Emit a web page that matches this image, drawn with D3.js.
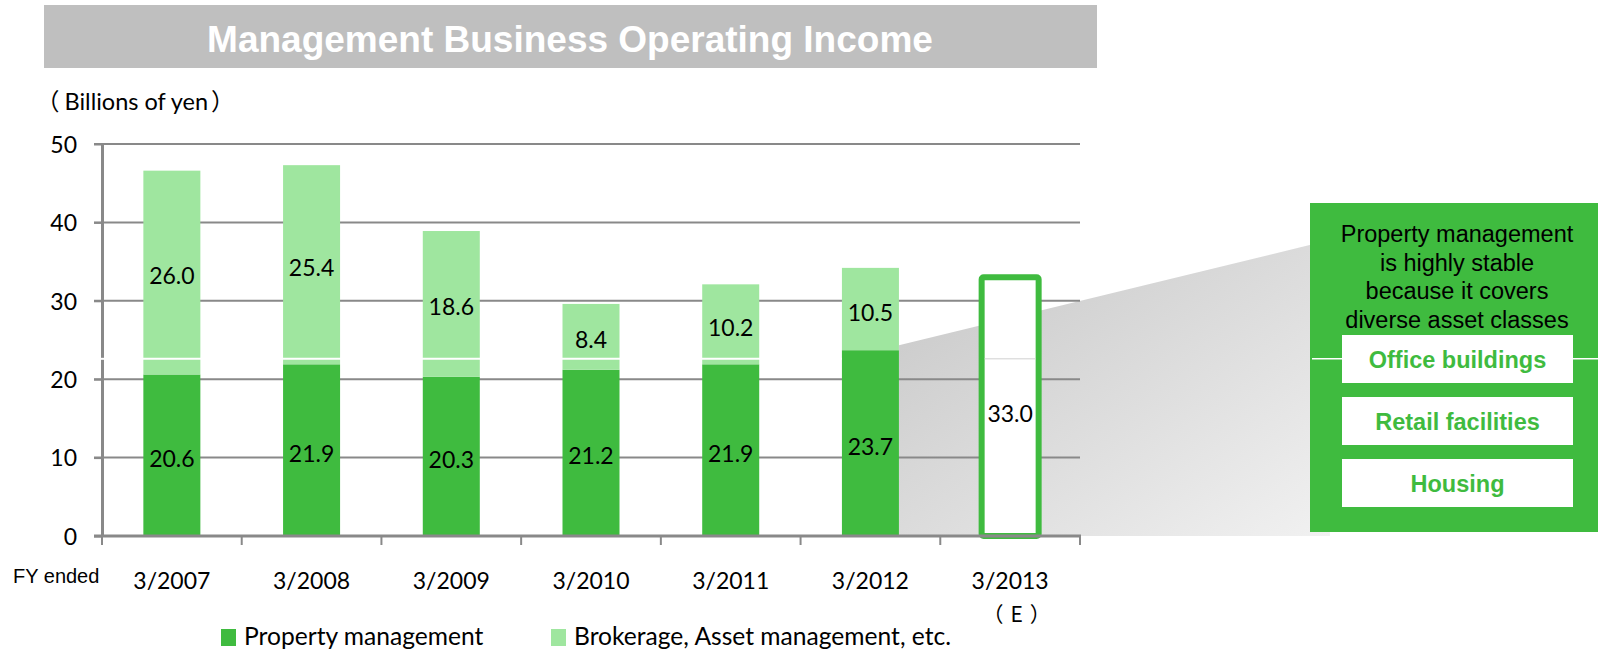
<!DOCTYPE html>
<html>
<head>
<meta charset="utf-8">
<script src="https://cdn.jsdelivr.net/npm/d3@7"></script>
<style>
  body { margin: 0; background: #fff; }
  svg { display: block; }
</style>
</head>
<body>
<svg id="canvas" width="1598" height="651"></svg>
<script>
// chart data
let categories = ['3/2007', '3/2008', '3/2009', '3/2010', '3/2011', '3/2012', '3/2013'];
let categorySubLabels = ['', '', '', '', '', '', '（E）'];
let propertyMgmt = [20.6, 21.9, 20.3, 21.2, 21.9, 23.7, null];
let brokerage = [26.0, 25.4, 18.6, 8.4, 10.2, 10.5, null];
let forecastTotal = [null, null, null, null, null, null, 33.0];
let yTicks = [0, 10, 20, 30, 40, 50];
let seriesNames = ['Property management', 'Brokerage, Asset management,  etc.'];
let calloutLines = ['Property management', 'is highly stable', 'because it covers', 'diverse asset classes'];
let assetClasses = ['Office buildings', 'Retail facilities', 'Housing'];

let dark = '#3fbb3f';
let light = '#9fe69f';
let axisGray = '#898989';
let numFont = 'Lato, "Noto Sans CJK JP", sans-serif';
let cjkFont = '"Noto Sans CJK JP", sans-serif';
let arial = '"Liberation Sans", Arial, sans-serif';

let canvas = d3.select('#canvas');

let x = d3.scaleBand()
    .domain(categories)
    .range([102, 1080])
    .paddingInner(0.592)
    .paddingOuter(0.296);

let y = d3.scaleLinear()
    .domain([0, 50])
    .range([536, 144]);

let table = categories.map((c, i) => ({
    category: c,
    property: propertyMgmt[i],
    brokerage: brokerage[i],
    forecast: forecastTotal[i]
}));
let actual = table.filter(d => d.property !== null);
let stacked = d3.stack().keys(['property', 'brokerage'])(actual);

// title banner
canvas.append('rect')
    .attr('x', 44).attr('y', 5)
    .attr('width', 1053).attr('height', 63)
    .attr('fill', '#bfbfbf');
canvas.append('text')
    .text('Management Business Operating Income')
    .attr('x', 570).attr('y', 52)
    .attr('text-anchor', 'middle')
    .style('font-family', arial)
    .style('font-weight', 'bold')
    .style('font-size', '37px')
    .style('fill', '#ffffff');

canvas.append('text')
    .attr('x', 36).attr('y', 110)
    .style('font-size', '23.5px')
    .style('fill', '#000')
    .call(t => {
        t.append('tspan').text('（').style('font-family', cjkFont);
        t.append('tspan').attr('dx', 5).text('Billions of yen').style('font-family', numFont);
        t.append('tspan').attr('dx', 3).text('）').style('font-family', cjkFont);
    });

// grey wedge leading to the callout
let defs = canvas.append('defs');
let grad = defs.append('linearGradient')
    .attr('id', 'wedgeGrad')
    .attr('x1', 0).attr('y1', 0).attr('x2', 1).attr('y2', 1);
grad.append('stop').attr('offset', '0%').attr('stop-color', '#c6c6c6');
grad.append('stop').attr('offset', '100%').attr('stop-color', '#f1f1f1');

let lastActual = categories[5];
let wedgeLeft = x(lastActual) + x.bandwidth();
let boxX = 1310;
canvas.append('path')
    .attr('d', d3.line()([
        [wedgeLeft, y(propertyMgmt[5]) - 5],
        [boxX + 20, 240],
        [boxX + 20, y(0)],
        [wedgeLeft, y(0)]
    ]) + 'Z')
    .attr('fill', 'url(#wedgeGrad)');

// gridlines
canvas.append('g')
    .selectAll('line')
    .data(yTicks.filter(t => t > 0))
    .enter()
    .append('line')
    .attr('x1', 94).attr('x2', 1080)
    .attr('y1', d => y(d)).attr('y2', d => y(d))
    .attr('stroke', axisGray)
    .attr('stroke-width', 2);

// stacked bars
let colors = { property: dark, brokerage: light };
canvas.append('g')
    .selectAll('g')
    .data(stacked)
    .enter()
    .append('g')
    .attr('fill', s => colors[s.key])
    .selectAll('rect')
    .data(s => s)
    .enter()
    .append('rect')
    .attr('x', d => x(d.data.category))
    .attr('y', d => y(d[1]))
    .attr('width', x.bandwidth())
    .attr('height', d => y(d[0]) - y(d[1]));

// white break line across the light segments
let breakValue = 22.6;
canvas.append('line')
    .attr('x1', 99).attr('x2', x(lastActual))
    .attr('y1', y(breakValue)).attr('y2', y(breakValue))
    .attr('stroke', '#ffffff')
    .attr('stroke-width', 2);

// forecast bar
let fc = table.filter(d => d.forecast !== null);
canvas.append('g')
    .selectAll('rect')
    .data(fc)
    .enter()
    .append('rect')
    .attr('x', d => x(d.category))
    .attr('y', d => y(d.forecast))
    .attr('width', x.bandwidth())
    .attr('height', d => y(0) - y(d.forecast))
    .attr('rx', 2)
    .attr('fill', '#ffffff')
    .attr('stroke', dark)
    .attr('stroke-width', 6);
canvas.append('g')
    .selectAll('line')
    .data(fc)
    .enter()
    .append('line')
    .attr('x1', d => x(d.category) + 3)
    .attr('x2', d => x(d.category) + x.bandwidth() - 3)
    .attr('y1', y(breakValue)).attr('y2', y(breakValue))
    .attr('stroke', '#d0d0d0')
    .attr('stroke-width', 1);

// y axis
let yAxis = d3.axisLeft(y)
    .tickValues(yTicks)
    .tickSize(8)
    .tickPadding(17)
    .tickSizeOuter(0);
let yG = canvas.append('g')
    .attr('transform', 'translate(102,0)')
    .call(yAxis);
yG.select('.domain').attr('stroke', axisGray).attr('stroke-width', 3);
yG.selectAll('.tick line').attr('stroke', axisGray).attr('stroke-width', 2);
yG.selectAll('.tick text')
    .attr('dy', '0.36em')
    .style('font-family', numFont)
    .style('font-size', '23px')
    .style('fill', '#000');

// re-draw break line over y axis
canvas.append('line')
    .attr('x1', 99).attr('x2', 105)
    .attr('y1', y(breakValue)).attr('y2', y(breakValue))
    .attr('stroke', '#ffffff')
    .attr('stroke-width', 2);

// x axis
let bounds = d3.range(categories.length + 1).map(i => x.range()[0] + i * x.step());
let xG = canvas.append('g');
xG.append('line')
    .attr('x1', 94).attr('x2', bounds[bounds.length - 1] + 1)
    .attr('y1', y(0)).attr('y2', y(0))
    .attr('stroke', axisGray)
    .attr('stroke-width', 3);
xG.selectAll('.xtick')
    .data(bounds)
    .enter()
    .append('line')
    .attr('class', 'xtick')
    .attr('x1', d => d).attr('x2', d => d)
    .attr('y1', y(0)).attr('y2', y(0) + 9)
    .attr('stroke', axisGray)
    .attr('stroke-width', 2);
xG.selectAll('.xlabel')
    .data(categories)
    .enter()
    .append('text')
    .attr('class', 'xlabel')
    .text(d => d)
    .attr('x', d => x(d) + x.bandwidth() / 2)
    .attr('y', 589)
    .attr('text-anchor', 'middle')
    .style('font-family', numFont)
    .style('font-size', '23px');
xG.selectAll('.xsub')
    .data(categories)
    .enter()
    .append('text')
    .attr('class', 'xsub')
    .text((d, i) => categorySubLabels[i])
    .attr('x', d => x(d) + x.bandwidth() / 2 + 10)
    .attr('y', 622)
    .attr('text-anchor', 'middle')
    .style('font-family', cjkFont)
    .style('font-size', '21px')
    .style('letter-spacing', '7px');

canvas.append('text')
    .text('FY ended')
    .attr('x', 13).attr('y', 583)
    .style('font-family', arial)
    .style('font-size', '20px');

// value labels
let labels = canvas.append('g')
    .style('font-family', numFont)
    .style('font-size', '23px')
    .attr('text-anchor', 'middle');
stacked.forEach(s => {
    labels.selectAll('.lbl-' + s.key)
        .data(s)
        .enter()
        .append('text')
        .text(d => (d[1] - d[0]).toFixed(1))
        .attr('x', d => x(d.data.category) + x.bandwidth() / 2)
        .attr('y', d => y((d[0] + d[1]) / 2))
        .attr('dy', '0.5em');
});
labels.selectAll('.lbl-fc')
    .data(fc)
    .enter()
    .append('text')
    .text(d => d.forecast.toFixed(1))
    .attr('x', d => x(d.category) + x.bandwidth() / 2)
    .attr('y', d => y(d.forecast / 2) + 4)
    .attr('dy', '0.5em');

// callout box
let box = canvas.append('g');
box.append('rect')
    .attr('x', boxX).attr('y', 203)
    .attr('width', 1598 - boxX).attr('height', 329)
    .attr('fill', dark);
box.selectAll('.cl')
    .data(calloutLines)
    .enter()
    .append('text')
    .text(d => d)
    .attr('x', 1457)
    .attr('y', (d, i) => 242 + i * 28.7)
    .attr('text-anchor', 'middle')
    .style('font-family', arial)
    .style('font-size', '23.5px')
    .style('fill', '#000');
box.append('line')
    .attr('x1', 1312).attr('x2', 1598)
    .attr('y1', y(breakValue)).attr('y2', y(breakValue))
    .attr('stroke', '#ffffff')
    .attr('stroke-width', 1.5);
let items = box.selectAll('.item')
    .data(assetClasses)
    .enter()
    .append('g')
    .attr('transform', (d, i) => `translate(1342, ${335 + i * 62})`);
items.append('rect')
    .attr('width', 231).attr('height', 48)
    .attr('fill', '#ffffff');
items.append('text')
    .text(d => d)
    .attr('x', 115.5).attr('y', 33)
    .attr('text-anchor', 'middle')
    .style('font-family', arial)
    .style('font-weight', 'bold')
    .style('font-size', '23.5px')
    .style('fill', dark);

// legend
let legendX = [221, 551];
let legend = canvas.append('g')
    .selectAll('g')
    .data(seriesNames)
    .enter()
    .append('g')
    .attr('transform', (d, i) => `translate(${legendX[i]}, 629)`);
legend.append('rect')
    .attr('width', 15).attr('height', 17)
    .attr('fill', (d, i) => i === 0 ? dark : light);
legend.append('text')
    .text(d => d)
    .attr('x', 23).attr('y', 16)
    .style('font-family', numFont)
    .style('font-size', '24.6px');
</script>
</body>
</html>
